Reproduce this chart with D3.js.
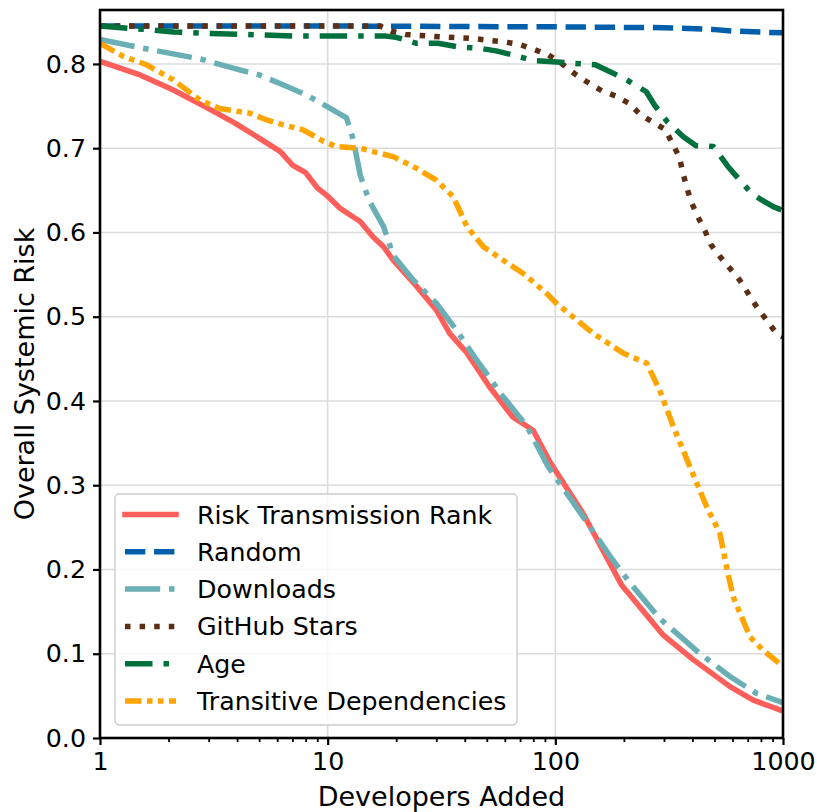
<!DOCTYPE html>
<html>
<head>
<meta charset="utf-8">
<script src="https://cdn.jsdelivr.net/npm/d3@7"></script>
<style>
  html, body { margin: 0; padding: 0; background: #ffffff; }
  svg { display: block; font-family: "DejaVu Sans", sans-serif; }
</style>
</head>
<body>
<svg id="chart" width="817" height="812"></svg>
<script>
// Developers added (x) and overall systemic risk (y) for each ranking strategy
const rtrSteps = [1, 1.5, 2.1, 2.9, 3.9, 5, 6.2, 7, 8, 9, 10, 11.3, 12.5, 13.9, 15.8, 17.6, 19.4, 24.6, 30, 34.4, 40.9, 51, 65, 75, 80, 95, 132, 195, 298, 403, 585, 740, 1000];
const rtrRisk  = [0.803, 0.787, 0.769, 0.749, 0.730, 0.712, 0.696, 0.680, 0.671, 0.653, 0.643, 0.629, 0.621, 0.613, 0.595, 0.583, 0.567, 0.536, 0.508, 0.480, 0.457, 0.418, 0.381, 0.370, 0.365, 0.327, 0.267, 0.182, 0.122, 0.093, 0.061, 0.045, 0.032];

const randomSteps = [1, 10, 100, 300, 490, 600, 845, 1000];
const randomRisk  = [0.845, 0.845, 0.844, 0.843, 0.841, 0.839, 0.8375, 0.837];

const downloadsSteps = [1, 1.66, 2.75, 4.1, 5, 6.4, 8.1, 10, 12.1, 12.9, 13.4, 13.9, 15.2, 17.6, 19.4, 23.7, 30, 36.8, 45, 59, 75, 93, 132, 179, 213, 287, 428, 585, 765, 1000];
const downloadsRisk  = [0.829, 0.817, 0.806, 0.793, 0.787, 0.775, 0.763, 0.749, 0.736, 0.712, 0.690, 0.668, 0.638, 0.607, 0.573, 0.544, 0.516, 0.484, 0.449, 0.405, 0.370, 0.322, 0.263, 0.211, 0.184, 0.142, 0.101, 0.073, 0.053, 0.042];

const starsSteps = [1, 17, 19, 22, 32, 44, 51, 60, 70, 81, 93, 107, 122, 139, 160, 184, 211, 236, 268, 305, 327, 350, 364, 379, 397, 424, 454, 484, 530, 647, 765, 937, 1000];
const starsRisk  = [0.845, 0.845, 0.839, 0.835, 0.832, 0.830, 0.828, 0.826, 0.823, 0.817, 0.811, 0.800, 0.788, 0.778, 0.768, 0.762, 0.753, 0.740, 0.731, 0.722, 0.705, 0.690, 0.670, 0.652, 0.635, 0.618, 0.602, 0.585, 0.571, 0.543, 0.512, 0.480, 0.476];

const ageSteps = [1, 1.55, 2.1, 3.1, 4.4, 7, 12, 18, 20, 24.6, 30.5, 36.8, 46.6, 55, 65, 80, 98, 120, 150, 173, 206, 251, 273, 310, 365, 415, 494, 574, 647, 727, 805, 905, 1000];
const ageRisk  = [0.845, 0.841, 0.838, 0.836, 0.835, 0.833, 0.833, 0.833, 0.8316, 0.8245, 0.8245, 0.8205, 0.8185, 0.8155, 0.8107, 0.804, 0.8027, 0.8007, 0.799, 0.791, 0.781, 0.767, 0.751, 0.7315, 0.7137, 0.703, 0.702, 0.678, 0.662, 0.6465, 0.6386, 0.6306, 0.626];

const transitiveSteps = [1, 1.27, 1.6, 2.1, 2.75, 3.36, 4.55, 5.4, 6.4, 7.8, 9.6, 10.9, 13.9, 15.8, 19.4, 24.6, 30, 35.6, 40.9, 48.3, 59, 72, 91.5, 101, 147, 199, 252, 287, 330, 390, 462, 528, 565, 604, 716, 819, 1000];
const transitiveRisk  = [0.8245, 0.8087, 0.799, 0.781, 0.757, 0.747, 0.7415, 0.7335, 0.7276, 0.7217, 0.708, 0.702, 0.700, 0.696, 0.690, 0.676, 0.662, 0.6425, 0.607, 0.583, 0.567, 0.5516, 0.5277, 0.516, 0.480, 0.4566, 0.4447, 0.413, 0.3695, 0.322, 0.2745, 0.243, 0.203, 0.1677, 0.120, 0.104, 0.085];

const seriesNames = ["Risk Transmission Rank", "Random", "Downloads", "GitHub Stars", "Age", "Transitive Dependencies"];
const xTickValues = [1, 10, 100, 1000];
const xTickLabels = ["1", "10", "100", "1000"];
const yTickValues = [0.0, 0.1, 0.2, 0.3, 0.4, 0.5, 0.6, 0.7, 0.8];
const yTickLabels = ["0.0", "0.1", "0.2", "0.3", "0.4", "0.5", "0.6", "0.7", "0.8"];

// Line styles per series (stroke width 5.5 px)
const styles = [
  { color: "#ff5f5a", dash: null },
  { color: "#005faa", dash: "20.3,8.8" },
  { color: "#6aafb5", dash: "35.2,8.8,5.5,8.8" },
  { color: "#5c2e16", dash: "5.5,9.1" },
  { color: "#00703c", dash: "27.5,11,5.5,11" },
  { color: "#ffa500", dash: "16.5,5.5,5.5,5.5,5.5,5.5" }
];
const LW = 5.5;

const series = [
  [rtrSteps, rtrRisk],
  [randomSteps, randomRisk],
  [downloadsSteps, downloadsRisk],
  [starsSteps, starsRisk],
  [ageSteps, ageRisk],
  [transitiveSteps, transitiveRisk]
].map(([xs, ys], i) => ({ name: seriesNames[i], points: xs.map((x, j) => [x, ys[j]]), style: styles[i] }));

const svg = d3.select("#chart");
const plot = { left: 100, right: 783, top: 10, bottom: 738 };

const x = d3.scaleLog().domain([1, 1000]).range([plot.left, plot.right]);
const y = d3.scaleLinear().domain([0, 0.864]).range([plot.bottom, plot.top]);

// Grid
const grid = svg.append("g").attr("stroke", "#dcdcdc").attr("stroke-width", 1.6);
xTickValues.forEach(v => grid.append("line")
  .attr("x1", x(v)).attr("x2", x(v)).attr("y1", plot.top).attr("y2", plot.bottom));
yTickValues.forEach(v => grid.append("line")
  .attr("x1", plot.left).attr("x2", plot.right).attr("y1", y(v)).attr("y2", y(v)));

// Clip for the data lines
svg.append("clipPath").attr("id", "plotClip").append("rect")
  .attr("x", plot.left).attr("y", plot.top)
  .attr("width", plot.right - plot.left).attr("height", plot.bottom - plot.top);

const line = d3.line().x(d => x(d[0])).y(d => y(d[1]));

const lines = svg.append("g").attr("clip-path", "url(#plotClip)");
series.forEach(s => {
  lines.append("path")
    .attr("d", line(s.points))
    .attr("fill", "none")
    .attr("stroke", s.style.color)
    .attr("stroke-width", LW)
    .attr("stroke-linejoin", "round")
    .attr("stroke-linecap", s.style.dash ? "butt" : "square")
    .attr("stroke-dasharray", s.style.dash);
});

// Axes
const xAxis = d3.axisBottom(x)
  .tickValues(xTickValues)
  .tickFormat((d, i) => xTickLabels[i])
  .tickSize(7).tickPadding(7);
const gx = svg.append("g").attr("transform", `translate(0,${plot.bottom})`).call(xAxis);

const minorTicks = [];
[1, 10, 100].forEach(dec => { for (let k = 2; k <= 9; k++) minorTicks.push(dec * k); });
const xMinor = d3.axisBottom(x).tickValues(minorTicks).tickFormat("").tickSize(4);
const gxm = svg.append("g").attr("transform", `translate(0,${plot.bottom})`).call(xMinor);

const yAxis = d3.axisLeft(y)
  .tickValues(yTickValues)
  .tickFormat((d, i) => yTickLabels[i])
  .tickSize(7).tickPadding(7);
const gy = svg.append("g").attr("transform", `translate(${plot.left},0)`).call(yAxis);

[gx, gxm, gy].forEach(g => {
  g.select(".domain").remove();
  g.selectAll(".tick line").attr("stroke", "#000").attr("stroke-width", 2.2);
  g.selectAll(".tick text").attr("fill", "#000")
    .style("font-family", "'DejaVu Sans', sans-serif").style("font-size", "25.3px");
});
gxm.selectAll(".tick line").attr("stroke-width", 1.8);

// Frame
svg.append("rect")
  .attr("x", plot.left).attr("y", plot.top)
  .attr("width", plot.right - plot.left).attr("height", plot.bottom - plot.top)
  .attr("fill", "none").attr("stroke", "#000").attr("stroke-width", 2.6);

// Axis titles
svg.append("text")
  .attr("x", (plot.left + plot.right) / 2).attr("y", 806)
  .attr("text-anchor", "middle")
  .style("font-size", "27px")
  .text("Developers Added");
svg.append("text")
  .attr("transform", `translate(34,${(plot.top + plot.bottom) / 2}) rotate(-90)`)
  .attr("text-anchor", "middle")
  .style("font-size", "27px")
  .text("Overall Systemic Risk");

// Legend
const legend = svg.append("g");
legend.append("rect")
  .attr("x", 115).attr("y", 494).attr("width", 402).attr("height", 231)
  .attr("rx", 4).attr("ry", 4)
  .attr("fill", "#ffffff").attr("fill-opacity", 0.8)
  .attr("stroke", "#cccccc").attr("stroke-width", 1.4);

series.forEach((s, i) => {
  const cy = 514.5 + i * 37.3;
  legend.append("line")
    .attr("x1", 125).attr("x2", 176).attr("y1", cy).attr("y2", cy)
    .attr("stroke", s.style.color).attr("stroke-width", LW)
    .attr("stroke-linecap", s.style.dash ? "butt" : "square")
    .attr("stroke-dasharray", s.style.dash);
  legend.append("text")
    .attr("x", 197).attr("y", cy + 9)
    .style("font-size", "25.3px")
    .text(s.name);
});
</script>
</body>
</html>
